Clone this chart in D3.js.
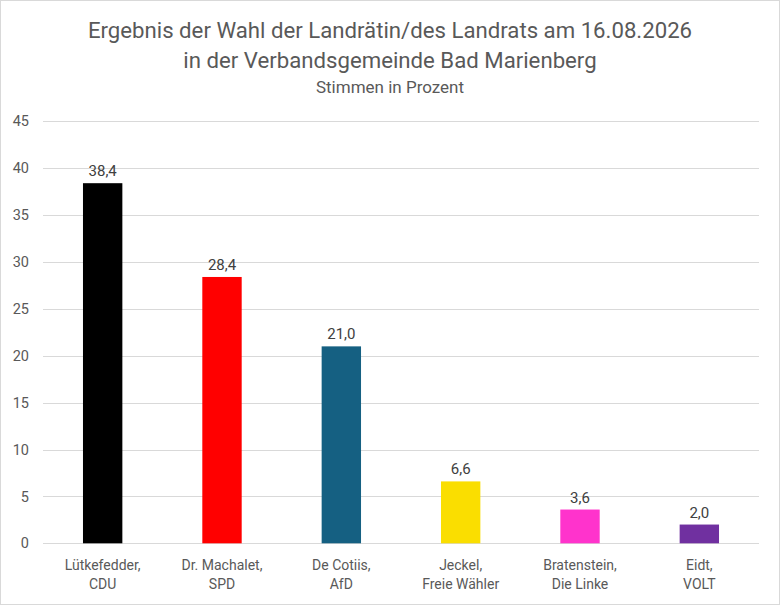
<!DOCTYPE html>
<html><head><meta charset="utf-8">
<script src="https://cdn.jsdelivr.net/npm/d3@7"></script>
<style>body{margin:0;background:#fff}svg{display:block}text{font-family:Roboto,"Open Sans",sans-serif}</style>
</head><body>
<script>
const titleLines = ["Ergebnis der Wahl der Landrätin/des Landrats am 16.08.2026","in der Verbandsgemeinde Bad Marienberg"];
const subtitle = "Stimmen in Prozent";
const candidates = [["Lütkefedder,","CDU"],["Dr. Machalet,","SPD"],["De Cotiis,","AfD"],["Jeckel,","Freie Wähler"],["Bratenstein,","Die Linke"],["Eidt,","VOLT"]];
const values = [38.4,28.4,21.0,6.6,3.6,2.0];
const colors = ["#000000","#FF0000","#156082","#FADE00","#FF33CC","#7030A0"];
const yTicks = [0,5,10,15,20,25,30,35,40,45];

const W=780,H=605;
const svg=d3.select("body").append("svg").attr("width",W).attr("height",H);
svg.append("rect").attr("x",0.5).attr("y",0.5).attr("width",W-1).attr("height",H-1).attr("fill","#fff").attr("stroke","#d9d9d9");

const x=d3.scaleBand().domain(d3.range(values.length)).range([43,759]).paddingInner(0.67).paddingOuter(0.335);
const y=d3.scaleLinear().domain([0,45]).range([543.3,121.3]);

const grid=svg.append("g");
grid.selectAll("line").data(yTicks).join("line")
  .attr("x1",43).attr("x2",759).attr("y1",d=>Math.round(y(d))+0.5).attr("y2",d=>Math.round(y(d))+0.5)
  .attr("stroke","#d9d9d9").attr("stroke-width",1);

const yAxis=d3.axisLeft(y).tickValues(yTicks).tickSize(0).tickPadding(0).tickFormat(d=>d);
const ga=svg.append("g").attr("transform","translate(29,0)").call(yAxis);
ga.select(".domain").remove();
ga.selectAll("text").attr("fill","#595959").attr("font-size",14.5).attr("font-family","Roboto");

svg.append("g").selectAll("rect").data(values).join("rect")
  .attr("x",(d,i)=>x(i)).attr("width",x.bandwidth())
  .attr("y",d=>y(d)).attr("height",d=>y(0)-y(d)).attr("fill",(d,i)=>colors[i]);

svg.append("g").selectAll("text").data(values).join("text")
  .attr("x",(d,i)=>x(i)+x.bandwidth()/2).attr("y",d=>y(d)-7)
  .attr("text-anchor","middle").attr("font-size",15).attr("fill","#404040")
  .text(d=>d.toFixed(1).replace(".",","));

const xl=svg.append("g");
candidates.forEach((c,i)=>{
  c.forEach((line,j)=>{
    xl.append("text").attr("x",x(i)+x.bandwidth()/2).attr("y",570+j*18.5)
      .attr("text-anchor","middle").attr("font-size",14).attr("fill","#595959").text(line);
  });
});

titleLines.forEach((t,i)=>{
  svg.append("text").attr("x",390).attr("y",38+i*30).attr("text-anchor","middle")
    .attr("font-size",22.2).attr("fill","#595959").text(t);
});
svg.append("text").attr("x",390).attr("y",93).attr("text-anchor","middle")
  .attr("font-size",17).attr("fill","#595959").text(subtitle);
</script>
</body></html>
